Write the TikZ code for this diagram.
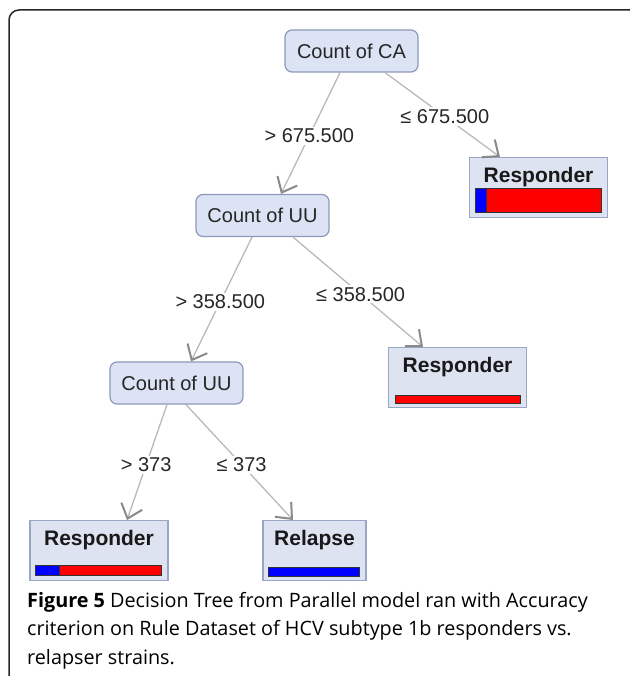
\documentclass[tikz,border=0pt]{standalone}
\usepackage{fontspec}
\setmainfont{Liberation Sans}
\newfontfamily\capfont{Open Sans}
\usetikzlibrary{arrows.meta}
\definecolor{boxfill}{HTML}{DCE3F5}
\definecolor{boxline}{HTML}{8E99B9}
\definecolor{leaffill}{HTML}{DEE3F2}
\definecolor{leafline}{HTML}{9AA6C6}
\definecolor{edgegray}{HTML}{B9B9B9}
\definecolor{tipgray}{HTML}{8A8A8A}
\tikzset{v/.style = {draw=boxline, fill=boxfill, rounded corners=7pt, line width=1.2pt,
        minimum width=133pt, minimum height=42pt, inner sep=0pt,
        font=\fontsize{20}{24}\selectfont, text=black!85},
    w/.style = {draw=leafline, fill=leaffill, line width=1.2pt, anchor=north,
        minimum width=138pt, inner xsep=0pt, inner ysep=6pt, text height=19pt, text depth=29pt,
        font=\fontsize{21}{24}\selectfont\bfseries, text=black!90},
    lab/.style = {fill=white, inner sep=2pt, pos=0.52, font=\fontsize{20}{24}\selectfont, text=black!85},
    e/.style = {draw=edgegray, line width=1.3pt,
        -{Straight Barb[length=13pt, width=22pt, line width=2pt, color=tipgray]}},
    bar/.style = {draw=black!80, line width=0.8pt}}

\begin{document}
\begin{tikzpicture}[x=1pt, y=-1pt]
        \useasboundingbox (0,0) rectangle (629,676);
        \draw[line width=1.5pt, black!85, rounded corners=10pt] (9,700) -- (9,10) -- (640,10) -- (640,700);

        % tests
        \node[v] (ca) at (351.5,51) {Count of CA};
        \node[v] (uua) at (262.5,215.5) {Count of UU};
        \node[v] (uub) at (176.5,383) {Count of UU};

        % leaves
        \node[w] (r1) at (538.5,157) {Responder};
        \node[w] (r2) at (457.5,347) {Responder};
        \node[w] (r3) at (99,520) {Responder};
        \node[w, minimum width=103pt] (rl) at (314.5,520) {Relapse};

        \draw[bar, fill=red] ([shift={(6pt,-31pt)}]r1.north west) rectangle ([shift={(132pt,-55pt)}]r1.north west);
        \draw[bar, fill=blue] ([shift={(6pt,-31pt)}]r1.north west) rectangle ([shift={(17pt,-55pt)}]r1.north west);
        \draw[bar, fill=red] ([shift={(7pt,-48pt)}]r2.north west) rectangle ([shift={(132pt,-56pt)}]r2.north west);
        \draw[bar, fill=red] ([shift={(6pt,-45pt)}]r3.north west) rectangle ([shift={(132pt,-55pt)}]r3.north west);
        \draw[bar, fill=blue] ([shift={(6pt,-45pt)}]r3.north west) rectangle ([shift={(30pt,-55pt)}]r3.north west);
        \draw[bar, fill=blue] ([shift={(6pt,-47pt)}]rl.north west) rectangle ([shift={(97pt,-56pt)}]rl.north west);

        % branches
        \draw[e] ([xshift=-11.5pt]ca.south) -- node[lab] {> 675.500} ([xshift=18.5pt]uua.north);
        \draw[e] ([xshift=33.5pt]ca.south) -- node[lab] {≤ 675.500} ([xshift=-38.5pt]r1.north);
        \draw[e] ([xshift=-10.5pt]uua.south) -- node[lab] {> 358.500} ([xshift=14.5pt]uub.north);
        \draw[e] ([xshift=30.5pt]uua.south) -- node[lab] {≤ 358.500} ([xshift=-34.5pt]r2.north);
        \draw[e] ([xshift=-9.5pt]uub.south) -- node[lab] {> 373} ([xshift=28pt]r3.north);
        \draw[e] ([xshift=9.5pt]uub.south) -- node[lab] {≤ 373} ([xshift=-21.5pt]rl.north);

        \node[anchor=north west, align=left, inner sep=0pt, font=\capfont\fontsize{19.8}{28.5}\selectfont] (cap) at (27,592)
            {\textbf{Figure 5} Decision Tree from Parallel model ran with Accuracy\\
             criterion on Rule Dataset of HCV subtype 1b responders vs.\\
             relapser strains.};
\end{tikzpicture}
\end{document}
